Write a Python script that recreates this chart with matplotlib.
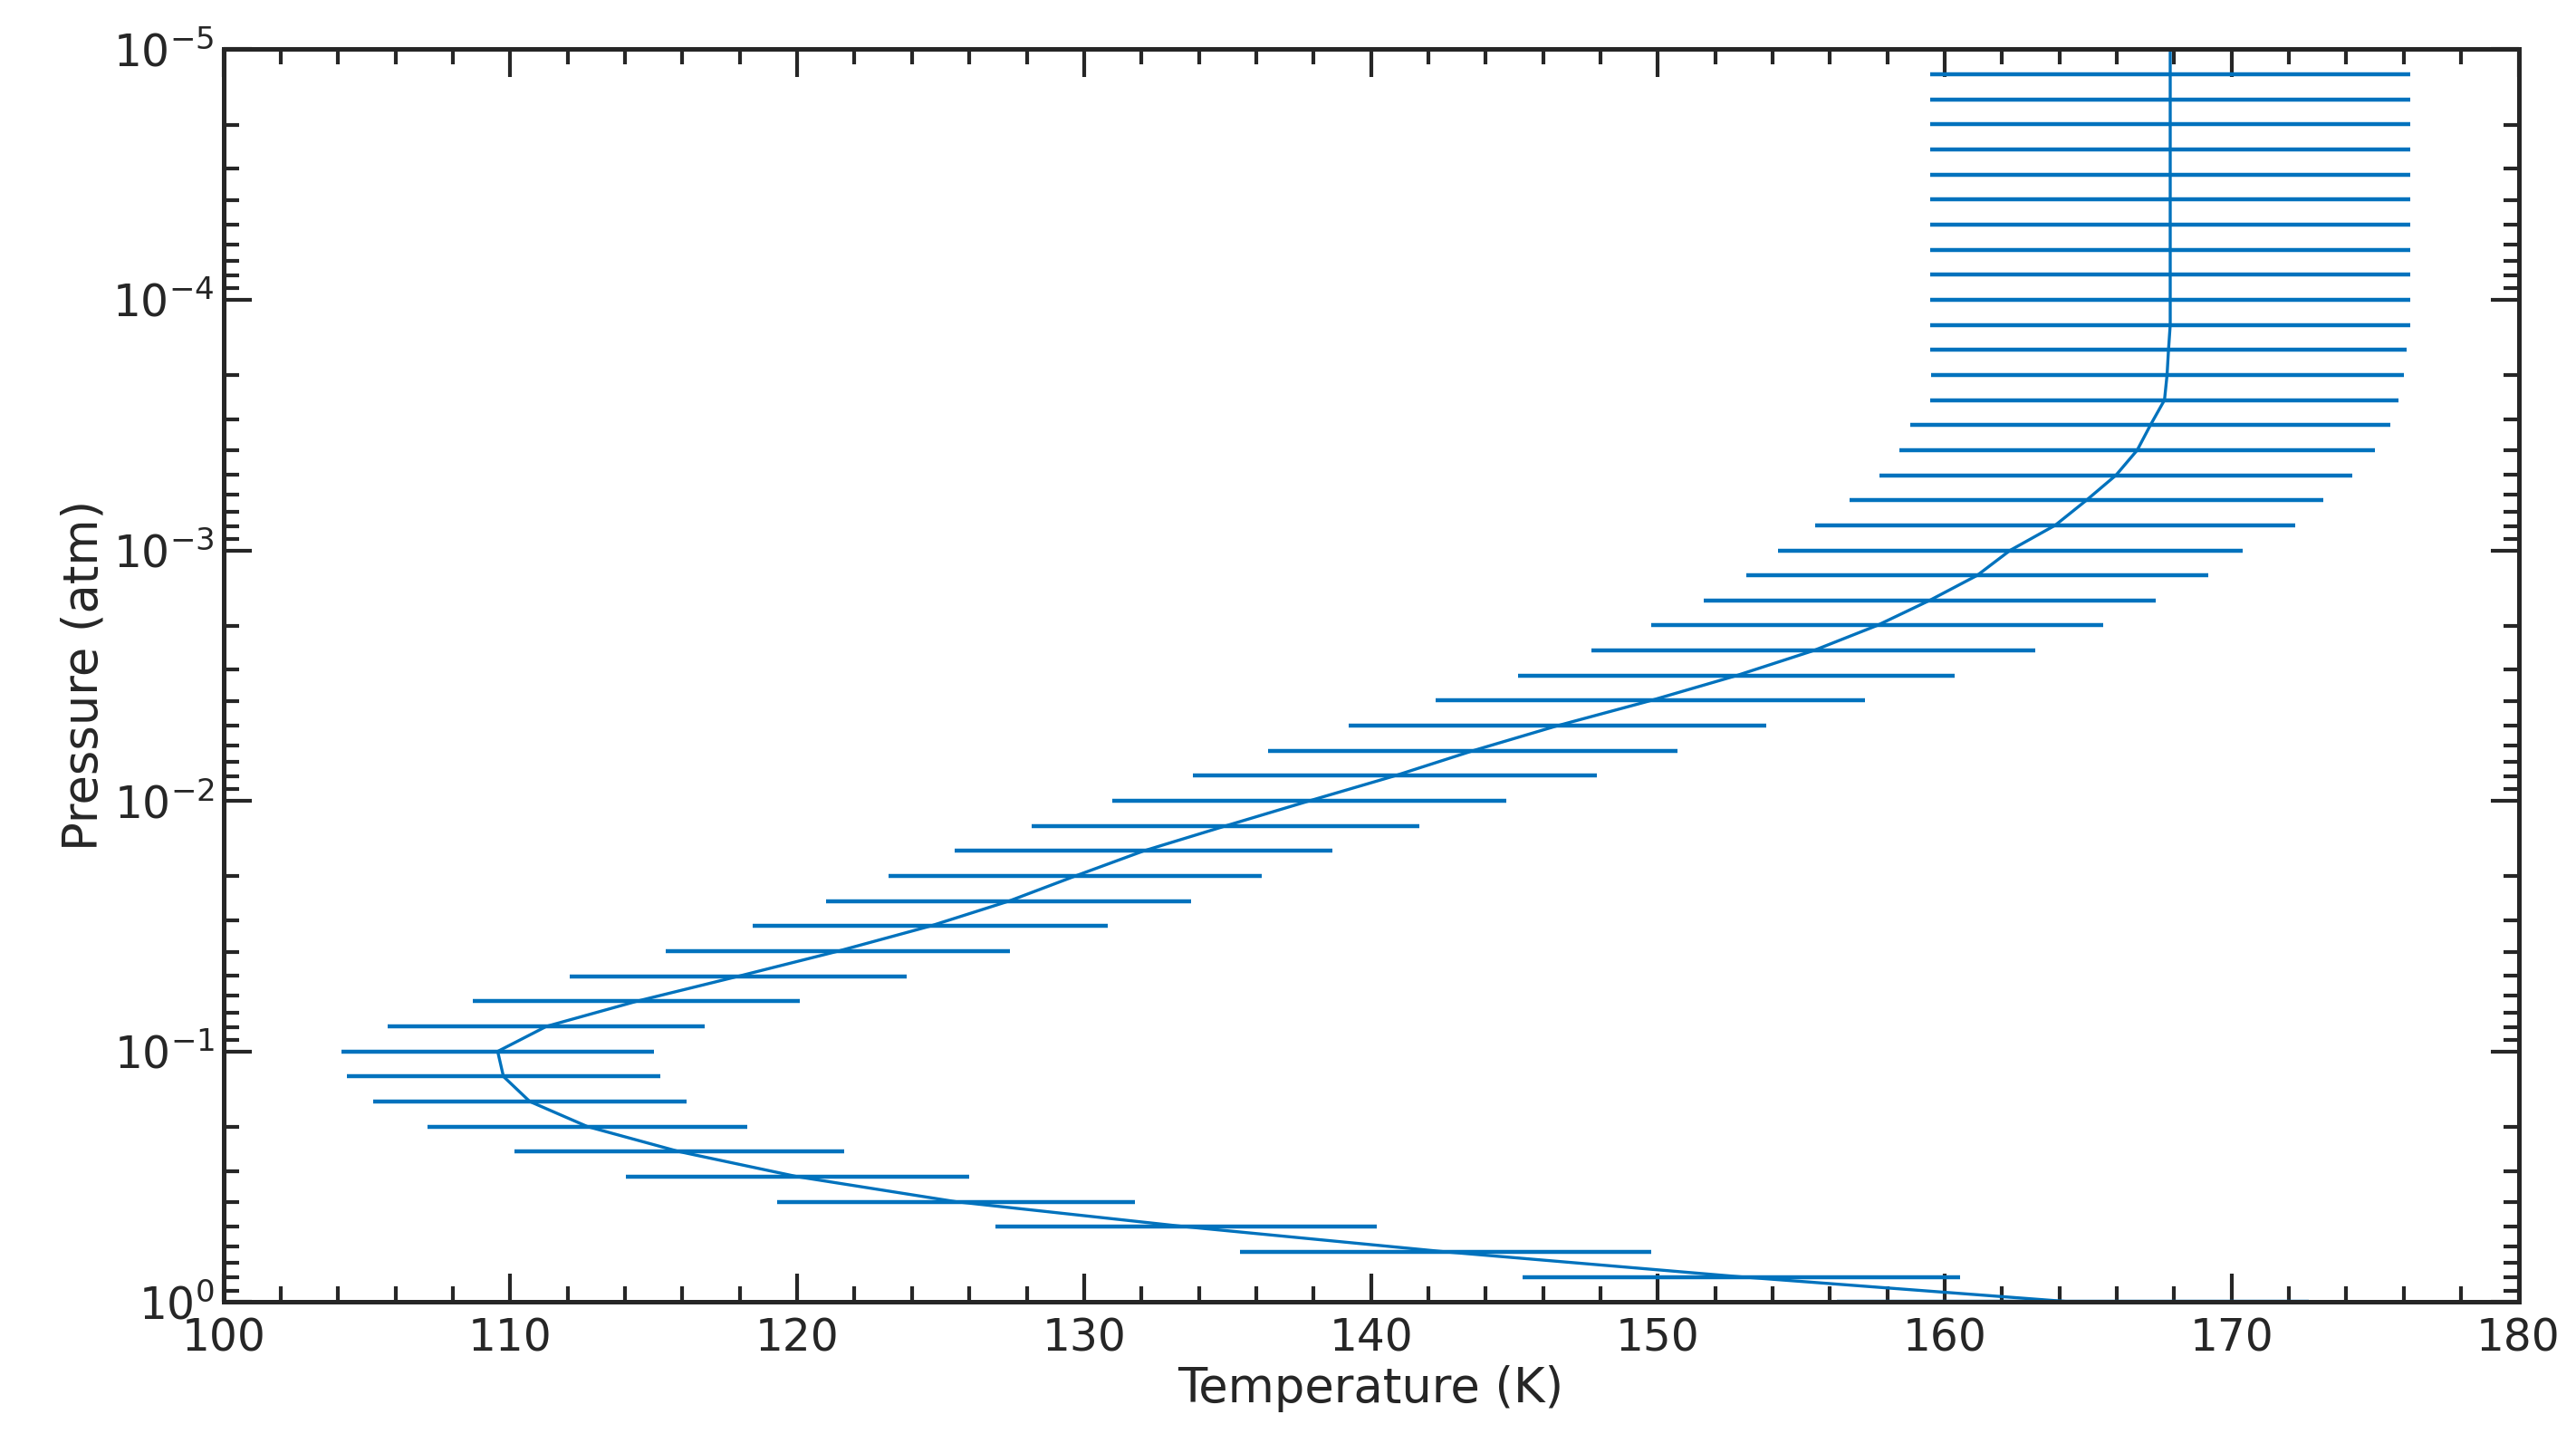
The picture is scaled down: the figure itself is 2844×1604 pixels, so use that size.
import numpy as np
import matplotlib.pyplot as plt
from matplotlib.ticker import MultipleLocator, LogLocator, NullFormatter

# ==========================================================
# DATA
# ==========================================================

log_pressure = [-5.0 + 0.1 * k for k in range(51)]

temperature = [
    167.86, 167.86, 167.86, 167.86, 167.86, 167.86, 167.86, 167.86, 167.86,
    167.86, 167.86, 167.86, 167.80, 167.75, 167.66, 167.17, 166.71, 165.97,
    164.94, 163.85, 162.28, 161.13, 159.47, 157.64, 155.43, 152.74, 149.74,
    146.50, 143.55, 140.83, 137.85, 134.93, 132.07, 129.69, 127.38, 124.63,
    121.42, 117.95, 114.40, 111.26, 109.56, 109.76, 110.68, 112.69, 115.89,
    120.01, 125.54, 133.56, 142.60, 152.91, 164.46,
]

temp_err = [
    8.36, 8.36, 8.36, 8.36, 8.36, 8.36, 8.36, 8.36, 8.36,
    8.36, 8.36, 8.36, 8.30, 8.24, 8.16, 8.36, 8.30, 8.25,
    8.25, 8.36, 8.10, 8.05, 7.87, 7.87, 7.73, 7.62, 7.47,
    7.27, 7.13, 7.04, 6.87, 6.76, 6.59, 6.50, 6.36, 6.19,
    6.01, 5.87, 5.70, 5.53, 5.44, 5.47, 5.47, 5.58, 5.76,
    5.98, 6.24, 6.64, 7.16, 7.62, 8.22,
]

pressure = 10.0 ** np.array(log_pressure)

# ==========================================================
# PLOT
# ==========================================================

color = "#0072BD"

fig = plt.figure(figsize=(14.22, 8.02), dpi=200)
ax = fig.add_axes([136 / 1568, 1 - 793 / 885, (1533 - 136) / 1568, (793 - 30) / 885])

ax.errorbar(
    temperature,
    pressure,
    xerr=temp_err,
    color=color,
    ecolor=color,
    linewidth=1.2,
    elinewidth=1.6,
    capsize=0
)

ax.set_yscale("log")
ax.set_xlim(100, 180)
ax.set_ylim(1, 1e-5)

ax.xaxis.set_major_locator(MultipleLocator(10))
ax.xaxis.set_minor_locator(MultipleLocator(2))
ax.yaxis.set_major_locator(LogLocator(base=10, numticks=10))
ax.yaxis.set_minor_locator(LogLocator(base=10, subs=np.arange(2, 10), numticks=10))
ax.yaxis.set_minor_formatter(NullFormatter())

ax.tick_params(which="both", direction="in", top=True, right=True,
               labelsize=17.5, colors="#262626", width=1.5)
ax.tick_params(which="major", length=11)
ax.tick_params(which="minor", length=6)
ax.tick_params(axis="x", pad=6)
for s in ax.spines.values():
    s.set_linewidth(1.8)
    s.set_color("#262626")

ax.set_xlabel("Temperature (K)", fontsize=19, color="#262626", labelpad=2)
ax.set_ylabel("Pressure (atm)", fontsize=19, color="#262626", labelpad=2)

fig.savefig("out.png", dpi=200)
